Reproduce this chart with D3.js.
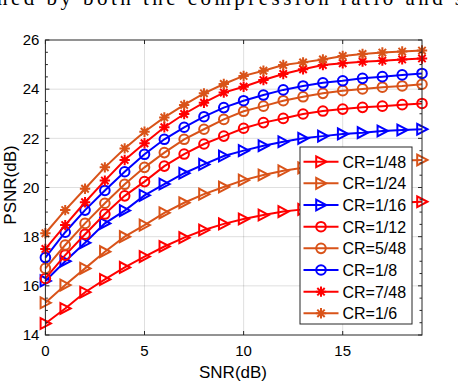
<!DOCTYPE html>
<html>
<head>
<meta charset="utf-8">
<script src="https://cdn.jsdelivr.net/npm/d3@7"></script>
<style>
  body { margin: 0; background: #fff; overflow: hidden; }
  svg { display: block; }
</style>
</head>
<body>
<svg id="chart"></svg>
<script>
const width = 458, height = 382;

// data
const snr = [0, 1, 2, 3, 4, 5, 6, 7, 8, 9, 10, 11, 12, 13, 14, 15, 16, 17, 18, 19];
const xTicks = [0, 5, 10, 15];
const yTicks = [14, 16, 18, 20, 22, 24, 26];
const labels = ["CR=1/48", "CR=1/24", "CR=1/16", "CR=1/12", "CR=5/48", "CR=1/8", "CR=7/48", "CR=1/6"];

const cr1_48 = [14.47, 15.08, 15.74, 16.26, 16.75, 17.19, 17.6, 17.96, 18.27, 18.52, 18.72, 18.88, 19.02, 19.11, 19.18, 19.24, 19.3, 19.35, 19.39, 19.42];
const cr1_24 = [15.31, 16.03, 16.71, 17.39, 18.0, 18.47, 18.97, 19.38, 19.73, 20.02, 20.3, 20.51, 20.68, 20.8, 20.88, 20.95, 21.01, 21.06, 21.1, 21.12];
const cr1_16 = [16.2, 17.0, 17.75, 18.54, 19.06, 19.68, 20.14, 20.58, 20.94, 21.28, 21.5, 21.7, 21.86, 22.0, 22.09, 22.18, 22.23, 22.3, 22.34, 22.37];
const cr1_12 = [16.3, 17.25, 18.1, 18.92, 19.66, 20.24, 20.87, 21.36, 21.77, 22.09, 22.41, 22.64, 22.81, 22.99, 23.11, 23.19, 23.26, 23.31, 23.37, 23.42];
const cr5_48 = [16.71, 17.66, 18.54, 19.36, 20.13, 20.82, 21.42, 21.96, 22.37, 22.77, 23.1, 23.31, 23.53, 23.69, 23.83, 23.94, 24.01, 24.08, 24.13, 24.2];
const cr1_8  = [17.15, 18.18, 19.08, 19.88, 20.64, 21.35, 21.96, 22.45, 22.88, 23.25, 23.53, 23.76, 23.97, 24.13, 24.26, 24.34, 24.44, 24.51, 24.58, 24.64];
const cr7_48 = [17.5, 18.47, 19.4, 20.28, 21.12, 21.8, 22.45, 22.99, 23.45, 23.86, 24.1, 24.37, 24.62, 24.81, 24.98, 25.05, 25.12, 25.16, 25.21, 25.25];
const cr1_6  = [18.14, 19.08, 19.95, 20.82, 21.59, 22.27, 22.85, 23.36, 23.83, 24.21, 24.54, 24.75, 24.98, 25.09, 25.21, 25.35, 25.43, 25.49, 25.53, 25.57];

const seriesValues = [cr1_48, cr1_24, cr1_16, cr1_12, cr5_48, cr1_8, cr7_48, cr1_6];
const seriesColors = ["#ff0000", "#d95319", "#0000ff", "#ff0000", "#d95319", "#0000ff", "#ff0000", "#d95319"];
const seriesMarkers = ["tri", "tri", "tri", "circle", "circle", "circle", "star", "star"];

const margin = { left: 45.4, right: 36, top: 40, bottom: 47 };
const font = "'Liberation Sans', Arial, Helvetica, sans-serif";
const axisColor = "#262626";

const svg = d3.select("#chart").attr("width", width).attr("height", height);
svg.append("rect").attr("width", width).attr("height", height).attr("fill", "#fff");

// clipped caption line from the page above
svg.append("text")
    .attr("x", -3).attr("y", 5)
    .attr("textLength", 466)
    .attr("lengthAdjust", "spacing")
    .style("font-family", "'Liberation Serif', 'Times New Roman', serif")
    .style("font-size", "21px")
    .attr("fill", "#000")
    .text("ned by both the compression ratio and s");

const x = d3.scaleLinear().domain([0, 19]).range([margin.left, width - margin.right]);
const y = d3.scaleLinear().domain([14, 26]).range([height - margin.bottom, margin.top]);

const x0 = x.range()[0], x1 = x.range()[1];
const y0 = y.range()[0], y1 = y.range()[1];

// grid
const grid = svg.append("g").attr("stroke", axisColor).attr("stroke-opacity", 0.15).attr("stroke-width", 1);
xTicks.filter(d => d > 0).forEach(d => {
    grid.append("line").attr("x1", x(d)).attr("x2", x(d)).attr("y1", y0).attr("y2", y1);
});
yTicks.filter(d => d > 14 && d < 26).forEach(d => {
    grid.append("line").attr("x1", x0).attr("x2", x1).attr("y1", y(d)).attr("y2", y(d));
});

// marker shapes
function markerPath(type) {
    if (type === "tri") return "M5.4,0L-4.8,-5.4L-4.8,5.4Z";
    if (type === "star") return "M-5.2,0L5.2,0M0,-5.2L0,5.2M-3.7,-3.7L3.7,3.7M-3.7,3.7L3.7,-3.7";
    return null;
}
function drawMarker(g, type, color) {
    if (type === "circle") {
        g.append("circle").attr("r", 4.8).attr("fill", "none")
            .attr("stroke", color).attr("stroke-width", 2);
    } else {
        g.append("path").attr("d", markerPath(type)).attr("fill", "none")
            .attr("stroke", color).attr("stroke-width", 2).attr("stroke-linejoin", "miter");
    }
}

const line = d3.line().x((d, i) => x(snr[i])).y(d => y(d));

seriesValues.forEach((vals, s) => {
    const g = svg.append("g");
    g.append("path").datum(vals).attr("d", line)
        .attr("fill", "none").attr("stroke", seriesColors[s]).attr("stroke-width", 2);
    vals.forEach((v, i) => {
        const m = g.append("g").attr("transform", `translate(${x(snr[i])},${y(v)})`);
        drawMarker(m, seriesMarkers[s], seriesColors[s]);
    });
});

// axes frame and ticks
const axes = svg.append("g");
axes.append("rect").attr("x", x0).attr("y", y1).attr("width", x1 - x0).attr("height", y0 - y1)
    .attr("fill", "none").attr("stroke", axisColor).attr("stroke-width", 1);

const tickLen = 4, minorLen = 2.5;
xTicks.forEach(d => {
    axes.append("line").attr("x1", x(d)).attr("x2", x(d)).attr("y1", y0).attr("y2", y0 - tickLen).attr("stroke", axisColor);
    axes.append("line").attr("x1", x(d)).attr("x2", x(d)).attr("y1", y1).attr("y2", y1 + tickLen).attr("stroke", axisColor);
    axes.append("text").attr("x", x(d)).attr("y", y0 + 21).attr("text-anchor", "middle")
        .style("font-family", font).style("font-size", "15px").attr("fill", "#000").text(d);
});
yTicks.forEach(d => {
    axes.append("line").attr("x1", x0).attr("x2", x0 + tickLen).attr("y1", y(d)).attr("y2", y(d)).attr("stroke", axisColor);
    axes.append("line").attr("x1", x1).attr("x2", x1 - tickLen).attr("y1", y(d)).attr("y2", y(d)).attr("stroke", axisColor);
    axes.append("text").attr("x", x0 - 6).attr("y", y(d) + 5.3).attr("text-anchor", "end")
        .style("font-family", font).style("font-size", "15px").attr("fill", "#000").text(d);
});
// y minor ticks every 0.5
y.ticks(24).filter(d => d % 2 !== 0).forEach(d => {
    axes.append("line").attr("x1", x0).attr("x2", x0 + minorLen).attr("y1", y(d)).attr("y2", y(d)).attr("stroke", axisColor);
    axes.append("line").attr("x1", x1).attr("x2", x1 - minorLen).attr("y1", y(d)).attr("y2", y(d)).attr("stroke", axisColor);
});

// axis labels
svg.append("text").attr("x", 233).attr("y", 377.5).attr("text-anchor", "middle")
    .style("font-family", font).style("font-size", "17px").attr("fill", "#000").text("SNR(dB)");
svg.append("text").attr("transform", "translate(16,185) rotate(-90)").attr("text-anchor", "middle")
    .style("font-family", font).style("font-size", "17px").attr("fill", "#000").text("PSNR(dB)");

// legend
const lg = svg.append("g").attr("transform", "translate(300,147)");
const rowH = 21.66;
lg.append("rect").attr("x", 0).attr("y", 0).attr("width", 112).attr("height", 177)
    .attr("fill", "#fff").attr("stroke", axisColor).attr("stroke-width", 1);
labels.forEach((lab, s) => {
    const cy = 14.7 + s * rowH;
    const row = lg.append("g").attr("transform", `translate(0,${cy})`);
    row.append("line").attr("x1", 3.5).attr("x2", 38.5).attr("y1", 0).attr("y2", 0)
        .attr("stroke", seriesColors[s]).attr("stroke-width", 2);
    const m = row.append("g").attr("transform", "translate(21,0)");
    drawMarker(m, seriesMarkers[s], seriesColors[s]);
    row.append("text").attr("x", 42.5).attr("y", 6).style("font-family", font).style("font-size", "16px")
        .attr("fill", "#000").text(lab);
});
</script>
</body>
</html>
